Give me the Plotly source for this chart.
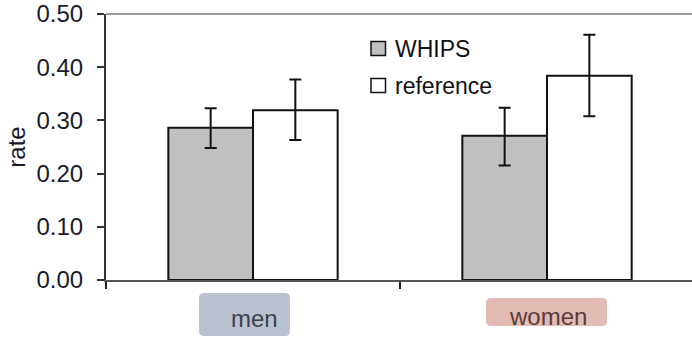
import plotly.graph_objects as go

categories = ["men", "women"]
whips = [0.286, 0.271]
whips_err_plus = [0.037, 0.053]
whips_err_minus = [0.038, 0.056]
reference = [0.319, 0.384]
ref_err_plus = [0.058, 0.077]
ref_err_minus = [0.056, 0.076]
yticks = [0.0, 0.1, 0.2, 0.3, 0.4, 0.5]
series_names = ["WHIPS", "reference"]

W, H = 692, 337
L, R, T, B = 106, 0, 14, 57
PW, PH = W - L - R, H - T - B
FONT = "Liberation Sans, Arial, sans-serif"


def px(x):
    return (x - L) / PW


def py(y):
    return (H - B - y) / PH


def rrect(x0, y0, x1, y1, r):
    a, b, c, d = px(x0), px(x1), py(y0), py(y1)
    rx, ry = r / PW, r / PH
    return (f"M{a+rx},{c} L{b-rx},{c} Q{b},{c} {b},{c-ry} L{b},{d+ry} Q{b},{d} {b-rx},{d} "
            f"L{a+rx},{d} Q{a},{d} {a},{d+ry} L{a},{c-ry} Q{a},{c} {a+rx},{c} Z")


fig = go.Figure()
fig.add_trace(go.Bar(
    x=categories, y=whips, name=series_names[0],
    marker=dict(color="#c0c0c0", line=dict(color="#111111", width=2)),
    error_y=dict(type="data", symmetric=False, array=whips_err_plus, arrayminus=whips_err_minus,
                 color="#111111", thickness=2, width=6),
    showlegend=False,
))
fig.add_trace(go.Bar(
    x=categories, y=reference, name=series_names[1],
    marker=dict(color="#ffffff", line=dict(color="#111111", width=2)),
    error_y=dict(type="data", symmetric=False, array=ref_err_plus, arrayminus=ref_err_minus,
                 color="#111111", thickness=2, width=6),
    showlegend=False,
))

shapes = []
# top border line
shapes.append(dict(type="line", xref="paper", yref="paper", x0=0, x1=1, y0=1, y1=1,
                   line=dict(color="#9a9a9a", width=2), layer="above"))
# category label boxes
shapes.append(dict(type="path", xref="paper", yref="paper", path=rrect(199, 293, 290, 336, 5),
                   fillcolor="#bac1cf", line=dict(width=0), layer="below"))
shapes.append(dict(type="path", xref="paper", yref="paper", path=rrect(486, 298, 607, 326, 5),
                   fillcolor="#e2bbb5", line=dict(width=0), layer="below"))
# legend squares
legend_fills = ["#c0c0c0", "#ffffff"]
legend_y = [48.5, 85.5]
for fcol, ly in zip(legend_fills, legend_y):
    shapes.append(dict(type="rect", xref="paper", yref="paper",
                       x0=px(371), x1=px(385.5), y0=py(ly + 7), y1=py(ly - 7),
                       fillcolor=fcol, line=dict(color="#111111", width=1.5)))

annotations = []
for name, ly in zip(series_names, legend_y):
    annotations.append(dict(xref="paper", yref="paper", x=px(393), y=py(ly), text=name,
                            showarrow=False, xanchor="left", yanchor="middle",
                            font=dict(family=FONT, size=23, color="#111111")))
label_colors = ["#3b4150", "#5a3c3a"]
label_offsets = [1.5, 0.5]
label_y = [318, 316]
for cat, col, off, ly in zip(categories, label_colors, label_offsets, label_y):
    annotations.append(dict(xref="x", yref="paper", x=cat, y=py(ly), text=cat, xshift=off,
                            showarrow=False, xanchor="center", yanchor="middle",
                            font=dict(family=FONT, size=24, color=col)))

fig.update_layout(
    width=W, height=H,
    margin=dict(l=L, r=R, t=T, b=B, pad=0),
    paper_bgcolor="white", plot_bgcolor="white",
    barmode="group", bargap=0.424, bargroupgap=0,
    shapes=shapes, annotations=annotations,
    font=dict(family=FONT, size=24, color="#1a1a2a"),
)
fig.update_xaxes(
    type="category", range=[-0.5, -0.5 + PW / 294], showticklabels=False,
    showline=True, linecolor="#555555", linewidth=2,
    ticks="outside", tickson="boundaries", ticklen=7, tickcolor="#222222", tickwidth=1.5,
    showgrid=False, zeroline=False,
)
fig.update_yaxes(
    range=[0, 0.5], tickvals=yticks, tickformat=".2f",
    showline=True, linecolor="#333333", linewidth=2,
    ticks="outside", ticklen=7, tickcolor="#333333", tickwidth=1.5,
    ticklabelstandoff=9,
    tickfont=dict(family=FONT, size=24, color="#1a1a2a"),
    title=dict(text="rate", font=dict(family=FONT, size=24, color="#1a1a2a"), standoff=4),
    showgrid=False, zeroline=False,
)

fig.write_html("out.html")
